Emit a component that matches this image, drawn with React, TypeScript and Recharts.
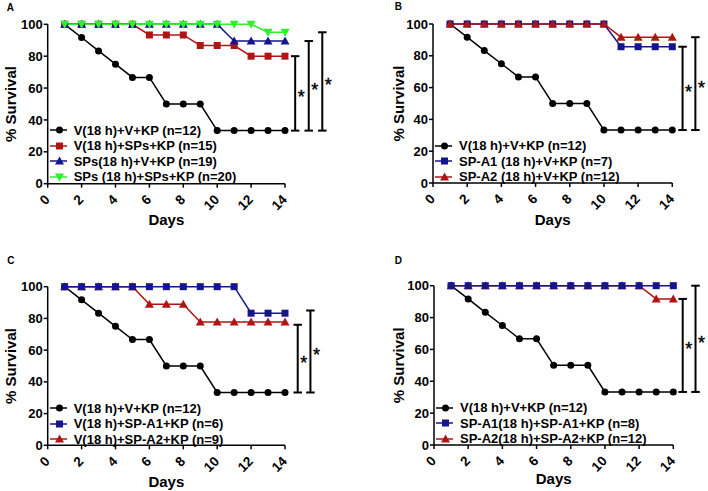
import React from 'react';
import { LineChart, Line, XAxis, YAxis, ReferenceLine, Legend } from 'recharts';

// days post infection
const days = [1, 2, 3, 4, 5, 6, 7, 8, 9, 10, 11, 12, 13, 14];
const dayTicks = [0, 2, 4, 6, 8, 10, 12, 14];
const survivalTicks = [0, 20, 40, 60, 80, 100];

// control group, same in every panel
const control = [100, 91.7, 83.3, 75, 66.7, 66.7, 50, 50, 50, 33.3, 33.3, 33.3, 33.3, 33.3];

// panel A
const aVSpsKp = [100, 100, 100, 100, 100, 93.3, 93.3, 93.3, 86.7, 86.7, 86.7, 80, 80, 80];
const aSpsVKp = [100, 100, 100, 100, 100, 100, 100, 100, 100, 100, 89.5, 89.5, 89.5, 89.5];
const aSpsSpsKp = [100, 100, 100, 100, 100, 100, 100, 100, 100, 100, 100, 100, 95, 95];
const aBracketX = [14.6, 15.4, 16.2];
const aBracketTop = [80, 89.5, 95];

// panel B
const bA1 = [100, 100, 100, 100, 100, 100, 100, 100, 100, 100, 85.7, 85.7, 85.7, 85.7];
const bA2 = [100, 100, 100, 100, 100, 100, 100, 100, 100, 100, 91.7, 91.7, 91.7, 91.7];
const bBracketX = [14.6, 15.35];
const bBracketTop = [85.7, 91.7];

// panel C
const cA1 = [100, 100, 100, 100, 100, 100, 100, 100, 100, 100, 100, 83.3, 83.3, 83.3];
const cA2 = [100, 100, 100, 100, 100, 88.9, 88.9, 88.9, 77.8, 77.8, 77.8, 77.8, 77.8, 77.8];
const cBracketX = [14.75, 15.5];
const cBracketTop = [76, 85];

// panel D
const dA1 = [100, 100, 100, 100, 100, 100, 100, 100, 100, 100, 100, 100, 100, 100];
const dA2 = [100, 100, 100, 100, 100, 100, 100, 100, 100, 100, 100, 100, 91.7, 91.7];
const dBracketX = [14.55, 15.3];
const dBracketTop = [91.7, 100];

const bracketBottom = 33.3;

const BLACK = '#000000';
const RED = '#b01515';
const BLUE = '#15158c';
const GREEN = '#2ef02e';
const FONT = '"Liberation Sans", Arial, sans-serif';

type Shape = 'circle' | 'square' | 'up' | 'down';
interface Series { key: string; name: string; color: string; shape: Shape; values: number[] }

const Marker = ({ cx, cy, color, shape }: { cx: number; cy: number; color: string; shape: Shape }) => {
  if (shape === 'circle') return <circle cx={cx} cy={cy} r={3.5} fill={color} />;
  if (shape === 'square') return <rect x={cx - 3.5} y={cy - 3.5} width={7} height={7} fill={color} />;
  if (shape === 'up')
    return <polygon points={`${cx},${cy - 4.5} ${cx + 4.5},${cy + 3.5} ${cx - 4.5},${cy + 3.5}`} fill={color} />;
  return <polygon points={`${cx},${cy + 4.5} ${cx + 4.5},${cy - 3.5} ${cx - 4.5},${cy - 3.5}`} fill={color} />;
};

const DayTick = (props: any) => {
  const { x, y, payload } = props;
  const tx = x - 4;
  return (
    <text x={tx} y={y} dy="0.71em" textAnchor="end" transform={`rotate(-45 ${tx} ${y})`}
      fontSize={13.5} fontWeight="bold" fill="#000" fontFamily={FONT}>
      {payload.value}
    </text>
  );
};

const Star = (props: any) => {
  const vb = props.viewBox;
  return (
    <text x={vb.x + 2.5} y={vb.y + vb.height / 2 + 10} fontSize={18} fill="#000" stroke="#000" strokeWidth={0.4} fontFamily={FONT}>*</text>
  );
};

interface PanelProps {
  letter: string;
  left: number;
  top: number;
  width: number;
  height: number;
  letterX: number;
  letterY: number;
  plotLeft: number;
  plotTop: number;
  plotRight: number;
  plotBottom: number;
  xAxisHeight: number;
  yLabelOffset: number;
  series: Series[];
  drawOrder: string[];
  bracketX: number[];
  bracketTop: number[];
  legendTop: number;
}

const Panel = (p: PanelProps) => {
  const data = days.map((d, i) => {
    const row: any = { day: d };
    p.series.forEach((s) => { row[s.key] = s.values[i]; });
    return row;
  });
  const cap = 0.25;
  const drawn = p.drawOrder.map((k) => p.series.find((s) => s.key === k) as Series);
  const legendContent = (lp: any) => {
    const items = (lp.payload || []).slice().sort(
      (m: any, n: any) => p.series.findIndex((s) => s.key === m.dataKey) - p.series.findIndex((s) => s.key === n.dataKey)
    );
    return (
      <div style={{ fontFamily: FONT, fontSize: 13, fontWeight: 'bold', color: '#000' }}>
        {items.map((item: any) => {
          const s = p.series.find((x) => x.key === item.dataKey) as Series;
          return (
            <div key={s.key} style={{ height: 15.5, display: 'flex', alignItems: 'center', whiteSpace: 'nowrap' }}>
              <svg width={24} height={12} style={{ flex: 'none' }}>
                <line x1={0} y1={6} x2={17} y2={6} stroke={s.color} strokeWidth={1.5} />
                <Marker cx={9.5} cy={6} color={s.color} shape={s.shape} />
              </svg>
              <span>{s.name}</span>
            </div>
          );
        })}
      </div>
    );
  };
  return (
    <div style={{ position: 'absolute', left: p.left, top: p.top, width: p.width, height: p.height }}>
      <svg style={{ position: 'absolute', left: 0, top: 0 }} width={80} height={30}>
        <text x={p.letterX} y={p.letterY} fontSize={10} fontWeight="bold" fontFamily={FONT}>
          {p.letter}
        </text>
      </svg>
      <LineChart
        width={p.width}
        height={p.height}
        data={data}
        margin={{
          top: p.plotTop,
          left: 0,
          right: p.width - p.plotRight,
          bottom: p.height - p.plotBottom - p.xAxisHeight,
        }}
        style={{ fontFamily: FONT }}
      >
        <XAxis
          dataKey="day"
          type="number"
          domain={[0, 14]}
          ticks={dayTicks}
          interval={0}
          height={p.xAxisHeight}
          tickSize={4}
          tickMargin={6}
          tick={<DayTick />}
          axisLine={{ stroke: '#000', strokeWidth: 1.5 }}
          tickLine={{ stroke: '#000', strokeWidth: 1.5 }}
          label={{ value: 'Days', position: 'insideBottom', offset: 0, fontSize: 15, fontWeight: 'bold', fill: '#000' }}
        />
        <YAxis
          type="number"
          domain={[0, 100]}
          ticks={survivalTicks}
          width={p.plotLeft}
          tickSize={4}
          tickMargin={1}
          tick={{ fontSize: 13, fontWeight: 'bold', fill: '#000' }}
          axisLine={{ stroke: '#000', strokeWidth: 1.5 }}
          tickLine={{ stroke: '#000', strokeWidth: 1.5 }}
          label={{
            value: '% Survival',
            angle: -90,
            position: 'insideLeft',
            offset: p.yLabelOffset,
            fontSize: 15,
            fontWeight: 'bold',
            fill: '#000',
            style: { textAnchor: 'middle' },
          }}
        />
        {p.bracketX.map((bx, i) => (
          <ReferenceLine key={'v' + i} ifOverflow="visible" stroke="#000" strokeWidth={2}
            segment={[{ x: bx, y: bracketBottom }, { x: bx, y: p.bracketTop[i] }]}
            label={{ content: <Star /> }} />
        ))}
        {p.bracketX.map((bx, i) => (
          <ReferenceLine key={'t' + i} ifOverflow="visible" stroke="#000" strokeWidth={2}
            segment={[{ x: bx - cap, y: p.bracketTop[i] }, { x: bx + cap, y: p.bracketTop[i] }]} />
        ))}
        {p.bracketX.map((bx, i) => (
          <ReferenceLine key={'b' + i} ifOverflow="visible" stroke="#000" strokeWidth={2}
            segment={[{ x: bx - cap, y: bracketBottom }, { x: bx + cap, y: bracketBottom }]} />
        ))}
        {drawn.map((s) => (
          <Line
            key={s.key}
            dataKey={s.key}
            name={s.name}
            type="linear"
            stroke={s.color}
            strokeWidth={1.5}
            isAnimationActive={false}
            dot={(dp: any) => <Marker key={s.key + dp.index} cx={dp.cx} cy={dp.cy} color={s.color} shape={s.shape} />}
            activeDot={false}
          />
        ))}
        <Legend
          layout="horizontal"
          verticalAlign="middle"
          align="center"
          content={legendContent}
          wrapperStyle={{ left: p.plotLeft + 2, top: p.legendTop, width: 'auto', height: 'auto' }}
        />
      </LineChart>
    </div>
  );
};

const seriesA: Series[] = [
  { key: 'ctrl', name: 'V(18 h)+V+KP (n=12)', color: BLACK, shape: 'circle', values: control },
  { key: 'vSps', name: 'V(18 h)+SPs+KP  (n=15)', color: RED, shape: 'square', values: aVSpsKp },
  { key: 'spsV', name: 'SPs(18 h)+V+KP (n=19)', color: BLUE, shape: 'up', values: aSpsVKp },
  { key: 'spsSps', name: 'SPs (18 h)+SPs+KP (n=20)', color: GREEN, shape: 'down', values: aSpsSpsKp },
];
const seriesB: Series[] = [
  { key: 'ctrl', name: 'V(18 h)+V+KP (n=12)', color: BLACK, shape: 'circle', values: control },
  { key: 'a1', name: 'SP-A1 (18 h)+V+KP (n=7)', color: BLUE, shape: 'square', values: bA1 },
  { key: 'a2', name: 'SP-A2 (18 h)+V+KP (n=12)', color: RED, shape: 'up', values: bA2 },
];
const seriesC: Series[] = [
  { key: 'ctrl', name: 'V(18 h)+V+KP (n=12)', color: BLACK, shape: 'circle', values: control },
  { key: 'a1', name: 'V(18 h)+SP-A1+KP (n=6)', color: BLUE, shape: 'square', values: cA1 },
  { key: 'a2', name: 'V(18 h)+SP-A2+KP (n=9)', color: RED, shape: 'up', values: cA2 },
];
const seriesD: Series[] = [
  { key: 'ctrl', name: 'V(18 h)+V+KP (n=12)', color: BLACK, shape: 'circle', values: control },
  { key: 'a1', name: 'SP-A1(18 h)+SP-A1+KP (n=8)', color: BLUE, shape: 'square', values: dA1 },
  { key: 'a2', name: 'SP-A2(18 h)+SP-A2+KP (n=12)', color: RED, shape: 'up', values: dA2 },
];

export default function App() {
  return (
    <div style={{ position: 'absolute', left: 0, top: 0, width: 708, height: 491, background: '#fff', fontFamily: FONT }}>
      <Panel letter="A" left={0} top={0} width={354} height={245} letterX={6.7} letterY={11.3}
        plotLeft={47.7} plotTop={24.3} plotRight={285} plotBottom={183.7} xAxisHeight={41.3} yLabelOffset={11}
        series={seriesA} drawOrder={['ctrl', 'vSps', 'spsV', 'spsSps']}
        bracketX={aBracketX} bracketTop={aBracketTop} legendTop={122.3} />
      <Panel letter="B" left={354} top={0} width={354} height={245} letterX={40.7} letterY={10.3}
        plotLeft={79} plotTop={24} plotRight={318.3} plotBottom={183} xAxisHeight={42} yLabelOffset={44.5}
        series={seriesB} drawOrder={['ctrl', 'a1', 'a2']}
        bracketX={bBracketX} bracketTop={bBracketTop} legendTop={137.8} />
      <Panel letter="C" left={0} top={245} width={354} height={246} letterX={7.3} letterY={18.5}
        plotLeft={47.7} plotTop={41.7} plotRight={285} plotBottom={200.3} xAxisHeight={41.4} yLabelOffset={11}
        series={seriesC} drawOrder={['ctrl', 'a2', 'a1']}
        bracketX={cBracketX} bracketTop={cBracketTop} legendTop={155.5} />
      <Panel letter="D" left={354} top={245} width={354} height={246} letterX={40.7} letterY={19.2}
        plotLeft={80} plotTop={40.7} plotRight={319.3} plotBottom={200} xAxisHeight={38.5} yLabelOffset={44.5}
        series={seriesD} drawOrder={['ctrl', 'a2', 'a1']}
        bracketX={dBracketX} bracketTop={dBracketTop} legendTop={155} />
    </div>
  );
}
